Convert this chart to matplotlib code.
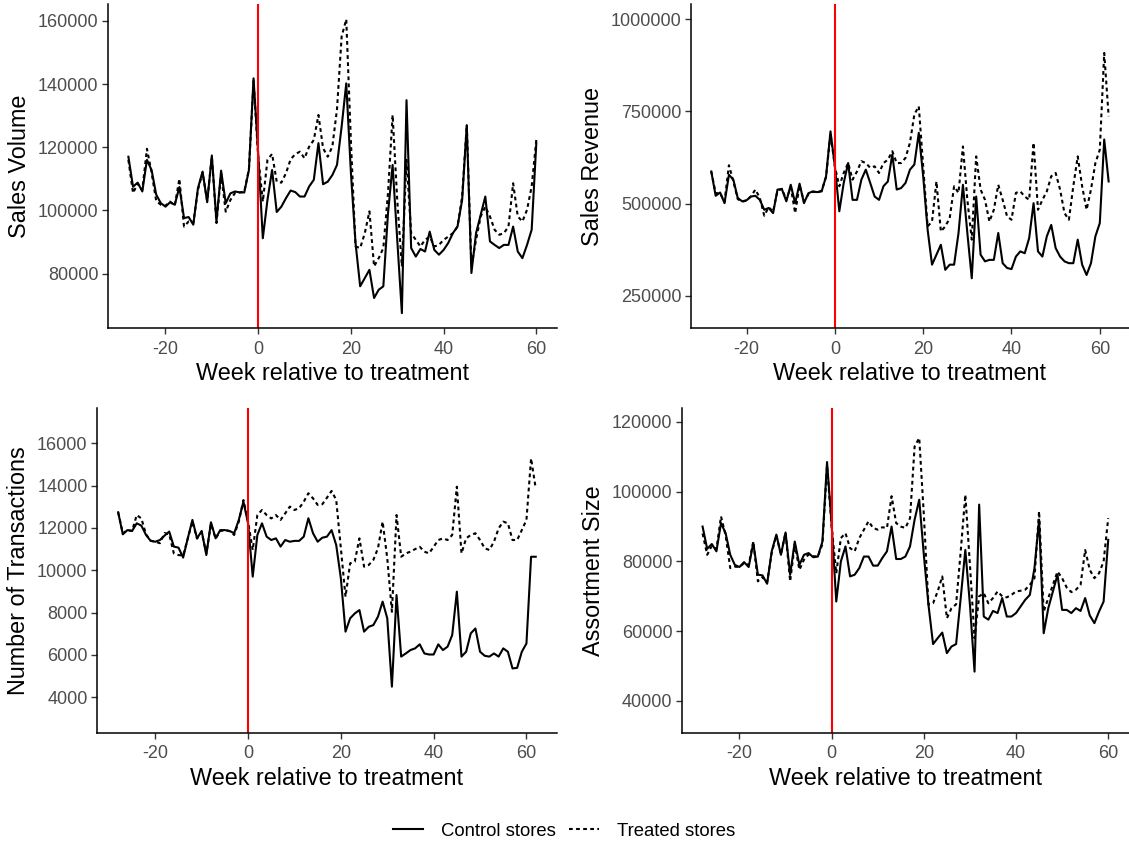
import matplotlib
matplotlib.use("Agg")
import matplotlib.pyplot as plt
from matplotlib.lines import Line2D

plt.rcParams['font.family'] = ['Liberation Sans', 'DejaVu Sans']

# semanas relativas al tratamiento
weeks_60 = list(range(-28, 61))
weeks_62 = list(range(-28, 63))

# Sales Volume (-28..60)
vol_control = [117000, 107500, 108800, 106000, 116000, 112800, 105000, 102300, 101200, 102600,
               101800, 107400, 97600, 97900, 95500, 107000, 112300, 102600, 117400, 96500,
               112600, 102300, 105400, 106000, 105700, 105700, 112800, 141800, 118000, 91200,
               103300, 112800, 99500, 101200, 103900, 106300, 105800, 104400, 104400, 107600,
               109700, 121300, 108300, 109100, 111200, 114400, 126500, 140200, 112000, 89700,
               76000, 78600, 81200, 72300, 74900, 76000, 99000, 114400, 90700, 67500,
               134900, 88100, 85400, 87800, 87000, 93300, 87500, 86000, 87500, 89700,
               92800, 94900, 103300, 127000, 80200, 92800, 98600, 104400, 90200, 89100,
               88100, 89100, 89100, 94900, 87000, 84900, 89100, 93900, 121300]
vol_treated = [116000, 105500, 108500, 106500, 119500, 112000, 103000, 101800, 101500, 102800,
               101500, 110000, 94900, 96500, 96000, 106500, 112000, 103000, 117000, 96000,
               111500, 99600, 103300, 105500, 105700, 106000, 113000, 141000, 117000, 102800,
               116000, 117900, 109100, 108800, 111800, 116200, 117800, 118600, 116500, 120200,
               122300, 130200, 119700, 117000, 120200, 132000, 155000, 160500, 122000, 88600,
               88100, 92800, 99700, 82300, 84900, 88100, 105400, 130200, 103300, 82300,
               116000, 92800, 90700, 88600, 90700, 91700, 88600, 89100, 90700, 91700,
               92800, 94900, 104400, 127000, 82300, 90700, 98100, 101200, 98100, 93900,
               92300, 92800, 94900, 108600, 98100, 96500, 100200, 107600, 122300]

# Sales Revenue (-28..62)
rev_control = [587000, 521000, 530000, 501000, 578000, 565000, 515000, 506000, 509000, 519000,
               521000, 510000, 483000, 488000, 474000, 538000, 539000, 506000, 551000, 501000,
               554000, 501000, 528000, 533000, 531000, 533000, 574000, 696000, 601000, 479000,
               556000, 610000, 510000, 510000, 565000, 592000, 556000, 519000, 510000, 547000,
               560000, 633000, 538000, 542000, 556000, 592000, 606000, 692000, 574000, 429000,
               334000, 361000, 388000, 320000, 334000, 334000, 420000, 551000, 420000, 297000,
               519000, 361000, 343000, 347000, 347000, 420000, 338000, 325000, 322000, 356000,
               370000, 365000, 406000, 501000, 370000, 356000, 411000, 442000, 379000, 356000,
               343000, 338000, 338000, 402000, 334000, 306000, 338000, 411000, 447000, 674000,
               560000]
rev_treated = [587000, 528000, 528000, 505000, 604000, 560000, 512000, 505000, 508000, 520000,
               538000, 515000, 467000, 490000, 478000, 535000, 540000, 510000, 545000, 474000,
               550000, 505000, 525000, 532000, 530000, 535000, 572000, 690000, 600000, 547000,
               583000, 610000, 565000, 587000, 615000, 610000, 597000, 601000, 583000, 610000,
               619000, 642000, 610000, 610000, 624000, 665000, 742000, 764000, 601000, 438000,
               451000, 560000, 424000, 438000, 460000, 547000, 529000, 655000, 510000, 402000,
               628000, 538000, 510000, 451000, 483000, 551000, 510000, 465000, 456000, 529000,
               533000, 519000, 510000, 665000, 483000, 510000, 533000, 574000, 583000, 538000,
               474000, 456000, 547000, 628000, 547000, 483000, 538000, 610000, 646000, 909000,
               737000]

# Number of Transactions (-28..62)
trx_control = [12740, 11700, 11900, 11860, 12220, 12110, 11670, 11390, 11350, 11430,
               11640, 11830, 11120, 11070, 10600, 11510, 12380, 11510, 11860, 10720,
               12270, 11510, 11900, 11900, 11860, 11750, 12380, 13240, 12220, 9700,
               11670, 12220, 11590, 11430, 11510, 11120, 11430, 11350, 11390, 11390,
               11590, 12460, 11750, 11350, 11540, 11590, 11900, 11190, 9620, 7100,
               7730, 7960, 8120, 7100, 7330, 7410, 7810, 8520, 7730, 4500,
               8830, 5920, 6070, 6230, 6310, 6500, 6070, 6020, 6020, 6500,
               6230, 6390, 6940, 8990, 5920, 6150, 7020, 7250, 6150, 5960,
               5920, 6070, 5920, 6310, 6150, 5360, 5390, 6150, 6540, 10640,
               10640]
trx_treated = [12740, 11750, 11900, 11860, 12610, 12450, 11700, 11400, 11350, 11280,
               11760, 11700, 10800, 10720, 10700, 11500, 12300, 11500, 11800, 10800,
               12200, 11500, 11850, 11900, 11850, 11670, 12300, 13320, 12300, 10960,
               12610, 12850, 12610, 12450, 12610, 12380, 12690, 13010, 12850, 12930,
               13240, 13640, 13400, 13090, 13120, 13430, 13750, 13320, 11040, 8750,
               10330, 10410, 11510, 10170, 10250, 10490, 11040, 12300, 10570, 8040,
               12610, 10640, 10800, 10880, 11000, 11110, 10880, 10800, 11110, 11430,
               11510, 11430, 11670, 13950, 10800, 11510, 11670, 11750, 11430, 11040,
               10960, 11350, 11980, 12300, 12220, 11430, 11430, 11900, 12380, 15290,
               13870]

# Assortment Size (-28..60)
ass_control = [90000, 83600, 85000, 82900, 91000, 88100, 81900, 79000, 78400, 79800,
               78400, 85300, 76200, 76000, 73600, 82900, 87700, 81900, 88300, 76200,
               85700, 79000, 81900, 82400, 81200, 81400, 85700, 108500, 90500, 68500,
               80000, 84300, 75700, 76200, 78100, 81400, 81400, 78800, 78800, 81000,
               82900, 90000, 80700, 80700, 81400, 84300, 92000, 97700, 81900, 67600,
               56300, 58000, 59600, 53700, 55600, 56300, 69500, 83300, 67600, 48400,
               96300, 64200, 63300, 65800, 65200, 69500, 64200, 64200, 65200, 67100,
               69000, 70400, 78100, 92000, 59400, 66600, 71400, 76200, 66100, 66100,
               65200, 66600, 65800, 69500, 64500, 62300, 65600, 68500, 86200]
ass_treated = [88000, 81900, 84500, 83500, 92900, 87500, 78100, 78500, 78400, 79500,
               79000, 85700, 74300, 75500, 74000, 82500, 87500, 82000, 88300, 74300,
               85000, 77600, 80500, 82000, 81500, 81400, 85000, 107500, 90000, 76600,
               86700, 88100, 83800, 82900, 86700, 89100, 91500, 89600, 89100, 89800,
               89600, 98700, 91000, 90000, 89600, 92400, 113000, 115400, 93400, 67600,
               68000, 71400, 75700, 63700, 66600, 67700, 82900, 99100, 79000, 58000,
               70000, 70900, 68000, 69500, 71400, 70000, 69700, 70400, 71400, 71600,
               71900, 73300, 75200, 94400, 65600, 69500, 73300, 77100, 75200, 72500,
               71200, 71900, 73300, 83300, 77600, 75200, 76600, 80000, 92400]

x_ticks = [-20, 0, 20, 40, 60]

paneles = [
    # (semanas, control, tratado, etiqueta, yticks, ylim, rect en px: izq, der, arriba, abajo)
    (weeks_60, vol_control, vol_treated, 'Sales Volume',
     [80000, 100000, 120000, 140000, 160000], (62800, 165200), (108, 556.7, 4.4, 328)),
    (weeks_62, rev_control, rev_treated, 'Sales Revenue',
     [250000, 500000, 750000, 1000000], (162000, 1040800), (691.4, 1128.5, 4.4, 328)),
    (weeks_62, trx_control, trx_treated, 'Number of Transactions',
     [4000, 6000, 8000, 10000, 12000, 14000, 16000], (2310, 17670), (97.3, 556.6, 408, 733)),
    (weeks_60, ass_control, ass_treated, 'Assortment Size',
     [40000, 60000, 80000, 100000, 120000], (30800, 124000), (682.3, 1128.5, 408, 733)),
]

punteado = (0, (1.8, 1.6))

W, H = 1129, 844
fig = plt.figure(figsize=(W / 100, H / 100), dpi=100)

for semanas, control, tratado, etiqueta, yt, ylim, rect in paneles:
    izq, der, arr, aba = rect
    ax = fig.add_axes([izq / W, (H - aba) / H, (der - izq) / W, (aba - arr) / H])
    ax.plot(semanas, control, color='black', lw=1.5)
    ax.plot(semanas, tratado, color='black', lw=1.5, linestyle=punteado)
    ax.axvline(0, color='red', lw=1.5)

    rango = semanas[-1] - semanas[0]
    ax.set_xlim(semanas[0] - 0.05 * rango, semanas[-1] + 0.05 * rango)
    ax.set_ylim(*ylim)
    ax.set_xticks(x_ticks)
    ax.set_xticklabels([str(t) for t in x_ticks])
    ax.set_yticks(yt)
    ax.set_yticklabels([str(v) for v in yt])

    for s in ['top', 'right']:
        ax.spines[s].set_visible(False)
    for s in ['left', 'bottom']:
        ax.spines[s].set_linewidth(1.1)
        ax.spines[s].set_color('black')
    ax.tick_params(axis='both', length=4, width=1.0, color='#333333',
                   labelsize=13, labelcolor='#4D4D4D', pad=3)
    ax.tick_params(axis='x', pad=5)
    ax.set_xlabel('Week relative to treatment', fontsize=16.8, labelpad=3)
    ax.set_ylabel(etiqueta, fontsize=16.8, labelpad=5)

handles = [Line2D([], [], color='black', lw=1.5),
           Line2D([], [], color='black', lw=1.5, linestyle=punteado)]
fig.legend(handles, ['Control stores', 'Treated stores'], loc='center',
           bbox_to_anchor=(0.5, (H - 831) / H), ncol=2, frameon=False,
           fontsize=13.3, handlelength=1.6, columnspacing=0.7, handletextpad=1.0)

fig.savefig('out.png', dpi=100, facecolor='white')
